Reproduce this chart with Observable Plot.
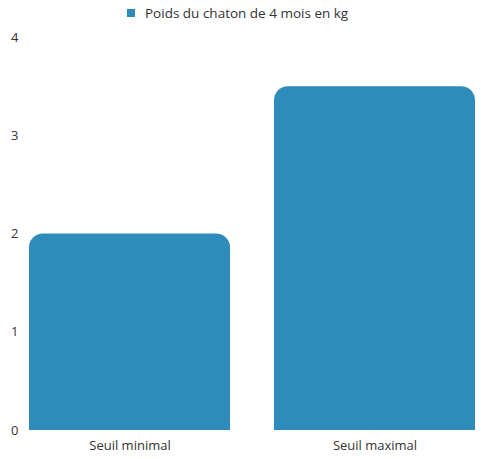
<!DOCTYPE html>
<html>
<head>
<meta charset="utf-8">
<script src="https://cdn.jsdelivr.net/npm/d3@7"></script>
<script src="https://cdn.jsdelivr.net/npm/@observablehq/plot@0.6"></script>
<style>
  html, body { margin: 0; padding: 0; background: #fff; }
  body { width: 481px; height: 459px; overflow: hidden; font-family: "Open Sans", sans-serif; }
  #legend { height: 26px; display: flex; justify-content: flex-start; align-items: center; font-size: 13.5px; color: #333; padding-left: 127px; box-sizing: border-box; }
  #legend .sw { width: 8px; height: 8px; background: #2e8bba; margin-right: 10px; flex: none; }
  #chart svg { display: block; }
</style>
</head>
<body>
<div id="legend"><span class="sw"></span><span>Poids du chaton de 4 mois en kg</span></div>
<div id="chart"></div>
<script>
const categories = ["Seuil minimal", "Seuil maximal"];
const values = [2, 3.5];
const seriesName = "Poids du chaton de 4 mois en kg";
const yTicks = [0, 1, 2, 3, 4];

const data = categories.map((c, i) => ({category: c, value: values[i]}));

const chart = Plot.plot({
  width: 481,
  height: 433,
  marginTop: 11,
  marginBottom: 29,
  marginLeft: 29,
  marginRight: 6,
  style: {fontFamily: "Open Sans, sans-serif", fontSize: "13px", color: "#333", background: "#fff"},
  x: {domain: categories, paddingInner: 0.18, paddingOuter: 0, label: null, tickSize: 0, tickPadding: 10},
  y: {domain: [0, 4], ticks: yTicks, label: null, tickSize: 0, tickPadding: 11, tickFormat: d3.format("d")},
  marks: [
    Plot.barY(data, {x: "category", y: "value", fill: "#2e8bba", rx: 14, insetBottom: -20, clip: true})
  ]
});
document.getElementById("chart").appendChild(chart);
</script>
</body>
</html>
